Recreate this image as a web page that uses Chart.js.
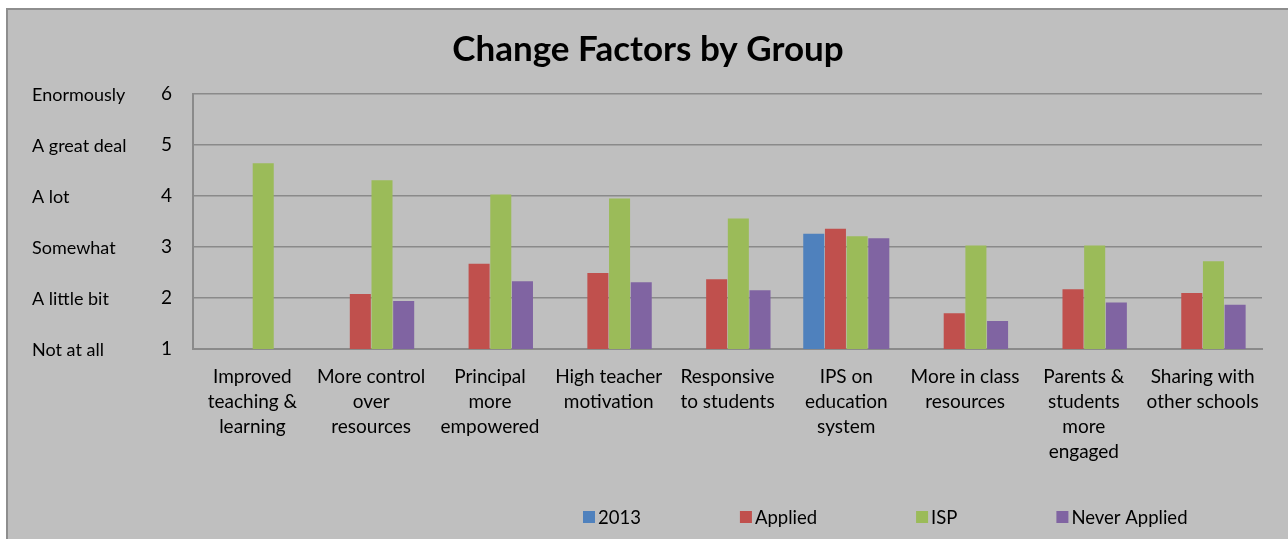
<!DOCTYPE html>
<html>
<head>
<meta charset="utf-8">
<script src="https://cdn.jsdelivr.net/npm/chart.js@4/dist/chart.umd.min.js"></script>
<style>
  html, body { margin: 0; padding: 0; background: #ffffff; width: 1288px; height: 539px; overflow: hidden; }
  #wrap { position: absolute; left: 6px; top: 8px; width: 1280px; height: 529px;
          background: #bfbfbf; border-left: 2px solid #8e8e8e; border-top: 2px solid #8e8e8e; }
  canvas { display: block; }
</style>
</head>
<body>
<div id="wrap"><canvas id="c" width="1280" height="529"></canvas></div>
<script>
// ---- data ----
const categories = [
  ["Improved", "teaching &", "learning"],
  ["More control", "over", "resources"],
  ["Principal", "more", "empowered"],
  ["High teacher", "motivation"],
  ["Responsive", "to students"],
  ["IPS on", "education", "system"],
  ["More in class", "resources"],
  ["Parents &", "students", "more", "engaged"],
  ["Sharing with", "other schools"]
];
const seriesNames = ["2013", "Applied", "ISP", "Never Applied"];
const s2013        = [null, null, null, null, null, 3.26, null, null, null];
const applied      = [null, 2.08, 2.67, 2.49, 2.37, 3.36, 1.70, 2.17, 2.10];
const isp          = [4.64, 4.31, 4.03, 3.95, 3.56, 3.21, 3.03, 3.03, 2.72];
const neverApplied = [null, 1.94, 2.33, 2.31, 2.15, 3.17, 1.55, 1.91, 1.87];
const yTickValues  = [1, 2, 3, 4, 5, 6];
const yTickWords   = ["Not at all", "A little bit", "Somewhat", "A lot", "A great deal", "Enormously"];
const colors = ["#4f81bd", "#c0504d", "#9bbb59", "#8064a2"];

const FONT = "Lato, 'Open Sans', sans-serif";

const seriesValues = [s2013, applied, isp, neverApplied];
const datasets = seriesNames.map((name, i) => ({
  label: name,
  data: seriesValues[i],
  backgroundColor: colors[i],
  borderWidth: 0,
  barPercentage: 0.97,
  categoryPercentage: 0.73
}));

// draws the word labels next to the y ticks
const wordLabels = {
  id: 'wordLabels',
  afterDraw(chart) {
    const ctx = chart.ctx;
    const y = chart.scales.y;
    ctx.save();
    ctx.font = "18px " + FONT;
    ctx.fillStyle = "#000";
    ctx.textAlign = "left";
    ctx.textBaseline = "middle";
    yTickValues.forEach((v, i) => {
      ctx.fillText(yTickWords[i], 24, y.getPixelForValue(v) + 1);
    });
    ctx.restore();
  }
};

// legend drawn in one row with fixed gaps
const bottomLegend = {
  id: 'bottomLegend',
  afterDraw(chart) {
    const ctx = chart.ctx;
    ctx.save();
    ctx.font = "18.5px " + FONT;
    ctx.textBaseline = "middle";
    let x = 575;
    const yc = 507;
    chart.data.datasets.forEach(ds => {
      ctx.fillStyle = ds.backgroundColor;
      ctx.fillRect(x, yc - 6, 12, 12);
      x += 15;
      ctx.fillStyle = "#000";
      ctx.fillText(ds.label, x, yc + 1);
      x += ctx.measureText(ds.label).width + 99;
    });
    ctx.restore();
  }
};

new Chart(document.getElementById('c'), {
  type: 'bar',
  data: { labels: categories, datasets },
  plugins: [wordLabels, bottomLegend],
  options: {
    responsive: false,
    animation: false,
    layout: { padding: { left: 0, right: 0, top: 0, bottom: 0 } },
    plugins: {
      legend: { display: false },
      tooltip: { enabled: false },
      title: {
        display: true,
        text: "Change Factors by Group",
        color: "#000",
        font: { family: FONT, size: 35, weight: 'bold', lineHeight: 1.2 },
        padding: { top: 19, bottom: 23 }
      }
    },
    scales: {
      x: {
        grid: { display: false, drawTicks: false },
        border: { display: true, color: "#8a8a8a", width: 2 },
        ticks: {
          color: "#000",
          font: { family: FONT, size: 19, lineHeight: '25px' },
          padding: 15,
          maxRotation: 0,
          autoSkip: false
        },
        afterFit(scale) { scale.height = 190; }
      },
      y: {
        min: 1,
        max: 6,
        grid: { color: "#8a8a8a", lineWidth: 1.5, drawTicks: false },
        border: { display: true, color: "#8a8a8a", width: 2 },
        ticks: {
          stepSize: 1,
          color: "#000",
          font: { family: FONT, size: 19 },
          padding: 21
        },
        afterFit(scale) { scale.width = 185; }
      },
      yRightSpace: {
        position: 'right',
        display: true,
        grid: { display: false, drawTicks: false },
        border: { display: false },
        ticks: { display: false },
        afterFit(scale) { scale.width = 26; }
      }
    }
  }
});
</script>
</body>
</html>
